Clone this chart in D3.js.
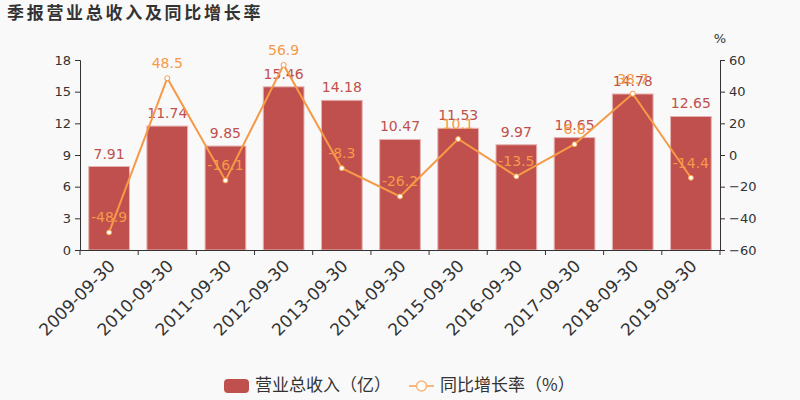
<!DOCTYPE html>
<html><head><meta charset="utf-8">
<script src="https://cdn.jsdelivr.net/npm/d3@7"></script>
<style>body{margin:0;background:#f9f9f9;}svg{display:block;font-family:"Noto Sans CJK SC","DejaVu Sans",sans-serif;}</style>
</head><body><svg id="c" width="800" height="400"></svg>
<script>
const categories = ["2009-09-30","2010-09-30","2011-09-30","2012-09-30","2013-09-30","2014-09-30","2015-09-30","2016-09-30","2017-09-30","2018-09-30","2019-09-30"];
const revenue = [7.91,11.74,9.85,15.46,14.18,10.47,11.53,9.97,10.65,14.78,12.65];
const growth = [-48.9,48.5,-16.1,56.9,-8.3,-26.2,10.1,-13.5,6.8,38.7,-14.4];
const leftTicks = [0,3,6,9,12,15,18];
const rightTicks = [-60,-40,-20,0,20,40,60];

const svg = d3.select("#c");
const L=80,R=720,T=60,B=250;
const barColor="#c0504d", lineColor="#f59a47";
svg.append("rect").attr("width",800).attr("height",400).attr("fill","#f9f9f9");
svg.append("text").attr("x",7).attr("y",19).text("季报营业总收入及同比增长率")
  .attr("font-size",17).attr("font-weight","bold").attr("letter-spacing",2.7).attr("fill","#333");

const xb=d3.scaleBand().domain(categories).range([L,R]);
const y=d3.scaleLinear().domain([0,18]).range([B,T]);
const y2=d3.scaleLinear().domain([-60,60]).range([B,T]);

svg.selectAll(".bar").data(revenue).join("rect")
  .attr("x",(d,i)=>xb(categories[i])+xb.bandwidth()*0.15)
  .attr("width",xb.bandwidth()*0.7)
  .attr("y",d=>y(d)).attr("height",d=>B-y(d))
  .attr("fill",barColor).attr("stroke","#e6b4b3").attr("stroke-width",1);

svg.selectAll(".bl").data(revenue).join("text")
  .attr("x",(d,i)=>xb(categories[i])+xb.bandwidth()/2)
  .attr("y",d=>y(d)-8).attr("text-anchor","middle")
  .attr("font-size",14).attr("fill",barColor).attr("font-family","DejaVu Sans").text(d=>d);

const ax=svg.append("g").attr("transform",`translate(0,${B})`)
  .call(d3.axisBottom(xb).tickSize(0).tickFormat(""));
ax.select(".domain").attr("stroke","#333");
const bounds = categories.map(c=>xb(c)).concat([R]);
svg.selectAll(".bt").data(bounds).join("line").attr("x1",d=>d).attr("x2",d=>d)
  .attr("y1",B).attr("y2",B+5).attr("stroke","#333");
svg.selectAll(".xl").data(categories).join("text")
  .attr("transform",d=>`translate(${xb(d)+xb.bandwidth()/2-2},${B+8}) rotate(-45)`)
  .attr("text-anchor","end").attr("dy","0.75em").attr("font-size",17).attr("fill","#333")
  .attr("font-family","DejaVu Sans").text(d=>d);

const ay=svg.append("g").attr("transform",`translate(${L},0)`)
  .call(d3.axisLeft(y).tickValues(leftTicks).tickSize(5).tickPadding(4));
const ay2=svg.append("g").attr("transform",`translate(${R},0)`)
  .call(d3.axisRight(y2).tickValues(rightTicks).tickSize(5).tickPadding(4));
[ay,ay2].forEach(g=>{g.selectAll("path,line").attr("stroke","#333");
  g.selectAll("text").attr("font-size",13).attr("fill","#333").attr("font-family","DejaVu Sans");});
svg.append("text").attr("x",720).attr("y",43).attr("text-anchor","middle").attr("font-size",13)
  .attr("fill","#333").attr("font-family","DejaVu Sans").text("%");

const line=d3.line().x((d,i)=>xb(categories[i])+xb.bandwidth()/2).y(d=>y2(d));
svg.append("path").datum(growth).attr("d",line).attr("fill","none").attr("stroke",lineColor).attr("stroke-width",2);
svg.selectAll(".pt").data(growth).join("circle")
  .attr("cx",(d,i)=>xb(categories[i])+xb.bandwidth()/2).attr("cy",d=>y2(d)).attr("r",2.5)
  .attr("fill","#fff").attr("stroke",lineColor).attr("stroke-width",1);
svg.selectAll(".gl").data(growth).join("text")
  .attr("x",(d,i)=>xb(categories[i])+xb.bandwidth()/2).attr("y",d=>y2(d)-10)
  .attr("text-anchor","middle").attr("font-size",14).attr("fill",lineColor)
  .attr("font-family","DejaVu Sans").text(d=>d);

svg.append("rect").attr("x",224).attr("y",379).attr("width",25).attr("height",14).attr("rx",4).attr("fill",barColor);
svg.append("text").attr("x",255).attr("y",391).attr("font-size",17).attr("fill","#333").text("营业总收入（亿）");
svg.append("line").attr("x1",409).attr("x2",434).attr("y1",386).attr("y2",386).attr("stroke","#fbb57a").attr("stroke-width",2);
svg.append("circle").attr("cx",421.5).attr("cy",386).attr("r",5).attr("fill","#fff").attr("stroke","#fbb57a").attr("stroke-width",1.5);
svg.append("text").attr("x",440).attr("y",391).attr("font-size",17).attr("fill","#333").text("同比增长率（%）");
</script></body></html>
